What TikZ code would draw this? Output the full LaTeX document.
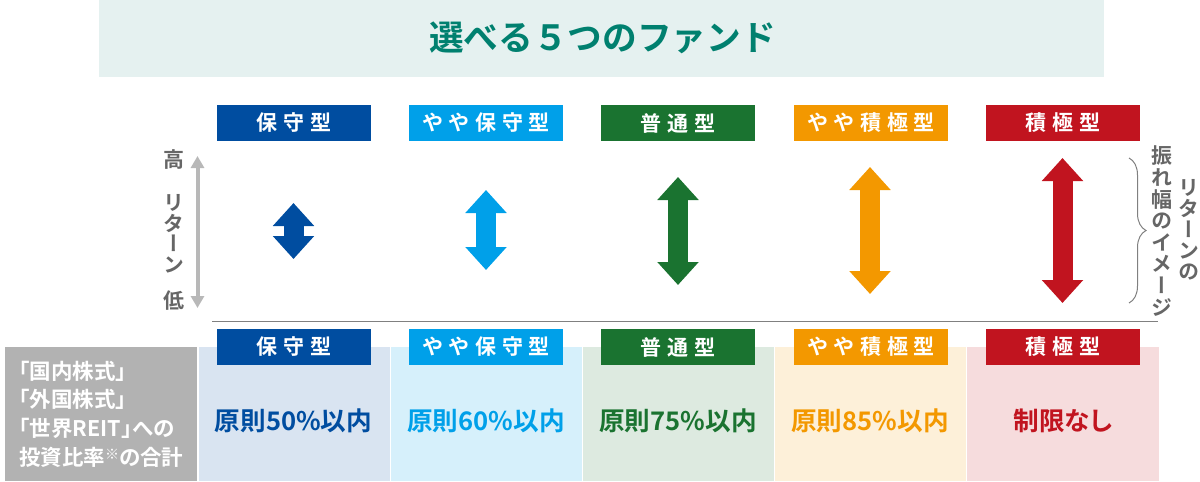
\documentclass[tikz,border=0pt]{standalone}
\usepackage{fontspec}
\setmainfont{Noto Sans CJK JP}
\newfontfamily\jpbold{Noto Sans CJK JP Bold}
\newfontfamily\jpprop[RawFeature=+palt]{Noto Sans CJK JP Bold}
\newfontfamily\jpspaced[LetterSpace=27]{Noto Sans CJK JP Bold}
\newfontfamily\jpvert[RawFeature=+vert]{Noto Sans CJK JP Bold}
\usetikzlibrary{arrows.meta,decorations.pathreplacing}
\definecolor{bandteal}{HTML}{E5F1F0}
\definecolor{titleteal}{HTML}{00806F}
\definecolor{fundblue}{HTML}{004DA0}
\definecolor{fundsky}{HTML}{00A0E9}
\definecolor{fundgreen}{HTML}{1A7330}
\definecolor{fundorange}{HTML}{F39800}
\definecolor{fundred}{HTML}{C1141F}
\definecolor{sidegray}{HTML}{666666}
\tikzset{
	panel/.style={anchor=north west, inner sep=0pt, minimum height=134pt, minimum width=191pt},
	head/.style={fill=#1, text=white, minimum width=154pt, minimum height=36pt, inner sep=0pt, font=\jpspaced\fontsize{21}{24}\selectfont},
	rate/.style={text=#1, inner sep=0pt, font=\jpbold\fontsize{25.6}{28}\selectfont},
	swing/.style={draw=#1, line width=20pt, {Triangle[width=40pt,length=23pt,fill=#1]}-{Triangle[width=40pt,length=23pt,fill=#1]}},
	vertlabel/.style={text=sidegray, align=center, inner sep=0pt, font=\jpvert\fontsize{21}{#1}\selectfont}
}
\begin{document}
\begin{tikzpicture}[x=1pt,y=-1pt]
	\useasboundingbox (0,0) rectangle (1200,482);
	% title
	\node (band) [fill=bandteal, anchor=north west, inner sep=0pt, minimum width=1005pt, minimum height=77pt] at (99,0) {};
	\node (title) [text=titleteal, font=\jpbold\fontsize{34.7}{38}\selectfont] at (602.5,38) {選べる５つのファンド};
	% panels
	\node (p0) [panel, fill=black!30, minimum width=192pt] at (5,347) {};
	\node (p1) [panel, fill=fundblue!15] at (198.5,347) {};
	\node (p2) [panel, fill=fundsky!16] at (391,347) {};
	\node (p3) [panel, fill=fundgreen!15] at (583,347) {};
	\node (p4) [panel, fill=fundorange!15] at (775,347) {};
	\node (p5) [panel, fill=fundred!15, minimum width=192pt] at (967,347) {};
	\node (share) [anchor=west, text=white, align=left, inner sep=0pt, font=\jpprop\fontsize{21.5}{28.6}\selectfont] at (19,414) {「国内株式」\\「外国株式」\\「世界REIT」への\\投資比率\raisebox{6pt}{\fontsize{14}{14}\selectfont ※}の合計};
	% fund names, upper row
	\node (a1) [head=fundblue] at (294,123) {保守型};
	\node (a2) [head=fundsky] at (486,123) {やや保守型};
	\node (a3) [head=fundgreen] at (678,123) {普通型};
	\node (a4) [head=fundorange] at (871,123) {やや積極型};
	\node (a5) [head=fundred] at (1063,123) {積極型};
	% fund names, lower row
	\node (b1) [head=fundblue] at (294,347) {保守型};
	\node (b2) [head=fundsky] at (486,347) {やや保守型};
	\node (b3) [head=fundgreen] at (678,347) {普通型};
	\node (b4) [head=fundorange] at (871,347) {やや積極型};
	\node (b5) [head=fundred] at (1063,347) {積極型};
	% rates
	\node (r1) [rate=fundblue] at (293.5,421) {原則50\%以内};
	\node (r2) [rate=fundsky] at (486,421) {原則60\%以内};
	\node (r3) [rate=fundgreen] at (678,421) {原則75\%以内};
	\node (r4) [rate=fundorange] at (870,421) {原則85\%以内};
	\node (r5) [rate=fundred, font=\jpprop\fontsize{25.6}{28}\selectfont] at (1063,421) {制限なし};
	% swing arrows
	\coordinate (t1) at (293.5,203); \coordinate (u1) at (293.5,259);
	\coordinate (t2) at (486,190);   \coordinate (u2) at (486,270);
	\coordinate (t3) at (678,177);   \coordinate (u3) at (678,285);
	\coordinate (t4) at (870,167);   \coordinate (u4) at (870,294);
	\coordinate (t5) at (1062.5,158);\coordinate (u5) at (1062.5,303);
	\draw[swing=fundblue] (t1) -- (u1);
	\draw[swing=fundsky] (t2) -- (u2);
	\draw[swing=fundgreen] (t3) -- (u3);
	\draw[swing=fundorange] (t4) -- (u4);
	\draw[swing=fundred] (t5) -- (u5);
	% return scale
	\coordinate (hi) at (197.5,156); \coordinate (lo) at (197.5,308);
	\draw[black!28, line width=4pt, {Triangle[width=13pt,length=12pt]}-{Triangle[width=13pt,length=12pt]}] (hi) -- (lo);
	\node (high) [vertlabel=20] at (173.5,160) {高};
	\node (ret) [vertlabel=20.5] at (173.5,234) {リ\\タ\\ー\\ン};
	\node (low) [vertlabel=20] at (173.5,301) {低};
	% rule
	\coordinate (ruleL) at (212,321); \coordinate (ruleR) at (1158,321);
	\draw[black!50, line width=1pt] (ruleL) -- (ruleR);
	% brace
	\coordinate (bt) at (1129,158); \coordinate (bu) at (1129,303);
	\draw[black!50, line width=1pt, decorate, decoration={brace, amplitude=17pt}] (bt) -- (bu);
	\node (swingA) [vertlabel=21.6] at (1161.5,231) {振\\れ\\幅\\の\\イ\\メ\\ー\\ジ};
	\node (swingB) [vertlabel=21] at (1189,230) {リ\\タ\\ー\\ン\\の};
\end{tikzpicture}
\end{document}
